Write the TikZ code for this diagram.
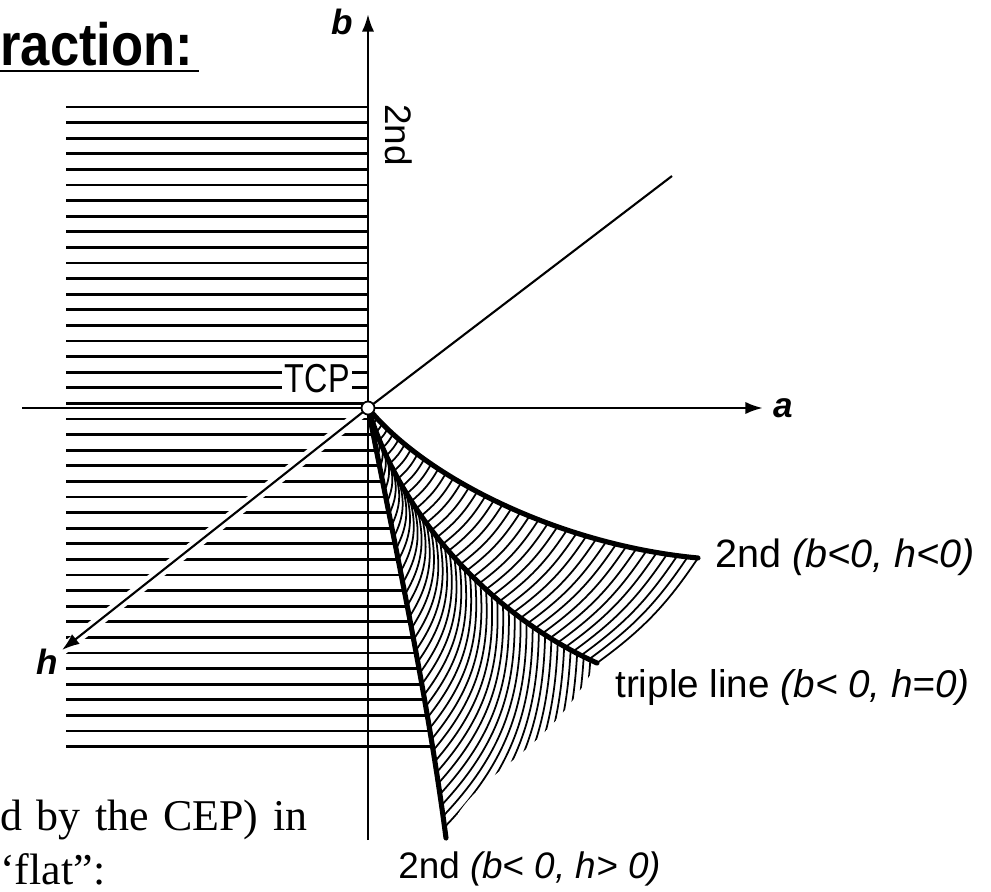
\documentclass[tikz,border=0pt]{standalone}
\usepackage{fontspec}
\setmainfont{Liberation Serif}
\newfontfamily\lblfont{Liberation Sans}
\newfontfamily\tcpfont[FakeStretch=0.8]{Liberation Sans}
\newfontfamily\headfont[FakeStretch=0.88]{Liberation Sans}
\usetikzlibrary{arrows.meta,positioning}
\tikzset{
  tcpaxis/.style={line width=1.6pt},
  tcparrow/.style={tcpaxis,-{Latex[length=10pt,width=7pt]}},
  tcpbranch/.style={line width=2.9pt,line cap=round},
  tcphatch/.style={line width=1pt},
  tcprule/.style={line width=1.5pt},
  tcplabel/.style={
    font=\lblfont\fontsize{21}{24}\selectfont,
    inner sep=0pt,
    anchor=base west
  },
  tcpaxislabel/.style={
    font=\lblfont\bfseries\itshape\fontsize{20}{24}\selectfont,
    inner sep=0pt
  }
}

\begin{document}
\begin{tikzpicture}[x=0.02cm,y=-0.02cm]
    \useasboundingbox (0,0) rectangle (991,892);
    \coordinate (tcp) at (368,408);
    \coordinate (btop) at (368,14);
    \coordinate (bbot) at (368,840);
    \coordinate (aleft) at (22,408);
    \coordinate (aright) at (763,408);
    \coordinate (hup) at (672,176);
    \coordinate (htip) at (62,650);
    \coordinate (upend) at (698,558);
    \coordinate (trend) at (597,663);
    \coordinate (loend) at (446,838);

    \begin{scope}
      \clip (60,90) -- (368,90) -- (tcp) .. controls (398,560) and (428,700) .. (loend)
        -- (60,838) -- cycle;
      \foreach \k in {0,...,41}
        \draw[tcprule] (66,{107+15.6*\k}) -- (470,{107+15.6*\k});
    \end{scope}
    \node[font=\tcpfont\fontsize{23}{26}\selectfont,fill=white,inner sep=1.5pt,
      anchor=base west] (lbltcp) at (282,392) {TCP};
    \draw[white,line width=6pt] (tcp) -- (htip);

    \foreach \i [evaluate=\i as \t using \i/40] in {0,...,40}{
      \path (tcp) .. controls (425,478) and (560,545) .. (upend) coordinate[pos=\t] (up\i);
      \path (tcp) .. controls (400,515) and (490,615) .. (trend) coordinate[pos=\t] (tr\i);
    }
    \foreach \i [evaluate=\i as \t using \i/48,evaluate=\i as \s using \i/38] in {0,...,48}{
      \path (tcp) .. controls (398,560) and (428,700) .. (loend) coordinate[pos=\s] (lo\i);
      \path (tcp) .. controls (400,515) and (490,615) .. (trend) coordinate[pos=\t] (tq\i);
    }
    \foreach \i in {1,...,40}
      \draw[tcphatch] (tr\i) to[bend right=10] (up\i);
    \begin{scope}
      \clip (tcp) .. controls (398,560) and (428,700) .. (loend)
        .. controls (470,770) and (540,765) .. (trend)
        .. controls (490,615) and (400,515) .. (tcp) -- cycle;
      \foreach \i in {1,...,48}
        \draw[tcphatch] (lo\i) to[bend right=22] (tq\i);
    \end{scope}

    \draw[tcpbranch] (tcp) .. controls (425,478) and (560,545) .. (upend);
    \draw[tcpbranch] (tcp) .. controls (400,515) and (490,615) .. (trend);
    \draw[tcpbranch] (tcp) .. controls (398,560) and (428,700) .. (loend);

    \draw[tcparrow] (bbot) -- (btop);
    \draw[tcparrow] (aleft) -- (aright);
    \draw[line width=1.2pt] (hup) -- (tcp);
    \draw[line width=1.2pt,-{Latex[length=10pt,width=7pt]}] (tcp) -- (htip);
    \node[circle,draw,fill=white,line width=1pt,minimum size=0.26cm,inner sep=0pt]
      (tcpdot) at (tcp) {};

    \node[tcpaxislabel,left=0.3cm of btop,yshift=-0.16cm] (lblb) {b};
    \node[tcpaxislabel,right=0.2cm of aright] (lbla) {a};
    \node[tcpaxislabel] (lblh) at (47,662) {h};
    \node[tcplabel,anchor=center,rotate=-90] (lbl2nd) at (399,135) {2nd};
    \node[tcplabel,font=\lblfont\fontsize{22.5}{26}\selectfont] (lblup) at (715,567)
      {2nd {\itshape (b<0, h<0)}};
    \node[tcplabel,font=\lblfont\fontsize{22}{26}\selectfont] (lbltriple) at (615,697)
      {triple line {\itshape (b< 0, h=0)}};
    \node[tcplabel] (lbllow) at (398,878) {2nd {\itshape (b< 0, h> 0)}};

    \node[font=\headfont\bfseries\fontsize{34}{40}\selectfont,inner sep=0pt,
      anchor=base west] (title) at (0,66) {raction:};
    \draw[line width=1.7pt] ([yshift=-0.1cm]title.base west) -- ([yshift=-0.1cm,xshift=0.12cm]title.base east);
    \node[font=\fontsize{25}{30}\selectfont,inner sep=0pt,
      anchor=base west] (note1) at (0,830) {\spaceskip=0.33em\relax d by the CEP) in};
    \node[font=\fontsize{25}{30}\selectfont,inner sep=0pt,
      anchor=base west] (note2) at (0,884) {‘flat”:};
  \end{tikzpicture}
\end{document}
